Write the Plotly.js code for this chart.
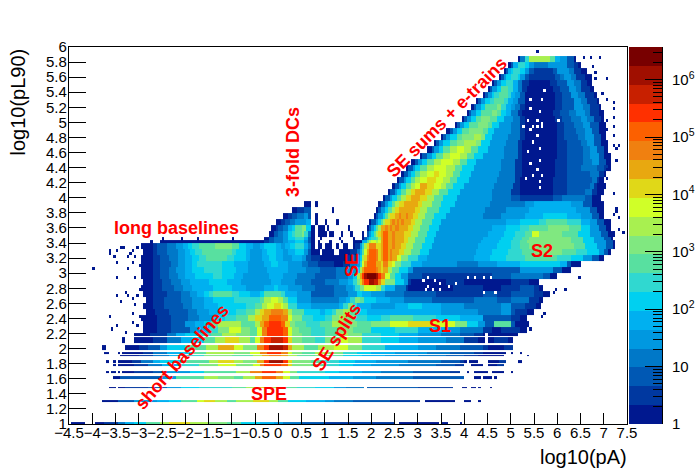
<!DOCTYPE html>
<html><head><meta charset="utf-8">
<script src="https://cdn.plot.ly/plotly-3.0.1.min.js"></script>
<style>html,body{margin:0;padding:0;background:#fff}</style></head>
<body><div id="chart" style="width:696px;height:472px"></div>
<script>
// Colour bands of the histogram, lowest first (one band = 1/20 of the log colour range)
const levelColors = ['#00188f','#0038a0','#0058b4','#0078c8','#0098e0','#00b0f0','#00d0f0','#30d8d0','#58e0a0','#80e880',
                     '#a8f050','#d0ff28','#e0d818','#e8a810','#f08010','#fc6000','#ff3000','#c82000','#a00f00','#780000'];
const xTicks = [-4.5,-4,-3.5,-3,-2.5,-2,-1.5,-1,-0.5,0,0.5,1,1.5,2,2.5,3,3.5,4,4.5,5,5.5,6,6.5,7,7.5];
const yTicks = [1,1.2,1.4,1.6,1.8,2,2.2,2.4,2.6,2.8,3,3.2,3.4,3.6,3.8,4,4.2,4.4,4.6,4.8,5,5.2,5.4,5.6,5.8,6];
const barMajor = [0,1,2,3,4,5,6];
const barMajorText = ['1','10','10<sup>2</sup>','10<sup>3</sup>','10<sup>4</sup>','10<sup>5</sup>','10<sup>6</sup>'];
const barTopDecade = 6.57;

// Histogram rows, top to bottom: lower edge, upper edge, and runs [x, level, x, level, ...]
const rowLow  = [5.80,5.72,5.64,5.56,5.48,5.40,5.32,5.24,5.16,5.08,5.00,4.92,4.84,4.76,4.68,4.60,4.52,4.44,4.36,4.28,4.20,4.12,4.04,3.96,3.88,3.80,3.72,3.64,3.56,3.48,
                 3.44,3.40,3.32,3.24,3.16,3.08,3.00,2.92,2.84,2.76,2.68,2.60,2.52,2.44,2.36,2.28,2.20,
                 2.17,2.07,1.98,1.93,1.90,1.81,1.77,1.68,1.60,1.48,1.29,1.00];
const rowHigh = [5.88,5.80,5.72,5.64,5.56,5.48,5.40,5.32,5.24,5.16,5.08,5.00,4.92,4.84,4.76,4.68,4.60,4.52,4.44,4.36,4.28,4.20,4.12,4.04,3.96,3.88,3.80,3.72,3.64,3.56,
                 3.48,3.44,3.40,3.32,3.24,3.16,3.08,3.00,2.92,2.84,2.76,2.68,2.60,2.52,2.44,2.36,2.28,
                 2.20,2.155,2.05,1.96,1.915,1.85,1.80,1.70,1.63,1.495,1.32,1.03];
const rowRuns = [
[5.15,1,5.2,4,5.3,8,5.4,11,5.85,9,5.95,6,6.05,5,6.2,3,6.35,1,6.42,0],
[4.95,1,5.0,3,5.05,6,5.15,8,5.3,7,5.4,5,5.5,4,5.8,5,6.0,5,6.2,3,6.35,2,6.45,1,6.5,0],
[4.85,1,4.9,3,4.95,6,5.0,7,5.05,8,5.2,7,5.3,5,5.4,3,5.5,2,5.9,3,6.0,5,6.25,4,6.35,2,6.5,1,6.65,0],
[4.75,1,4.8,3,4.85,5,4.9,7,5.0,8,5.15,7,5.2,5,5.3,3,5.4,2,5.95,3,6.05,4,6.15,5,6.3,4,6.42,2,6.6,1,6.75,0],
[4.62,1,4.67,3,4.72,5,4.8,7,4.9,8,5.05,6,5.15,4,5.25,2,5.4,1,5.85,2,6.0,3,6.2,5,6.35,4,6.48,2,6.65,1,6.75,0],
[4.52,1,4.57,3,4.62,5,4.7,7,4.8,9,4.95,8,5.05,6,5.15,4,5.25,2,5.35,1,5.9,2,6.05,3,6.25,5,6.4,4,6.52,2,6.72,1,6.8,0],
[4.42,1,4.47,3,4.52,5,4.6,7,4.65,8,4.75,9,4.95,8,5.0,6,5.1,5,5.2,3,5.3,1,5.95,2,6.1,3,6.3,5,6.45,4,6.6,2,6.8,1,6.85,0],
[4.25,1,4.32,3,4.37,5,4.45,7,4.55,8,4.65,9,4.85,8,4.95,6,5.05,5,5.15,3,5.3,1,5.95,2,6.1,3,6.35,5,6.5,4,6.65,2,6.85,1,6.9,0],
[4.15,1,4.2,3,4.27,5,4.35,7,4.45,9,4.7,10,4.8,8,4.92,6,5.0,5,5.1,4,5.2,2,5.3,1,5.95,2,6.1,3,6.35,5,6.55,4,6.68,2,6.88,1,6.95,0],
[4.05,1,4.1,3,4.17,5,4.25,7,4.35,9,4.6,10,4.7,9,4.8,7,4.9,6,5.0,4,5.15,2,5.25,1,5.9,2,6.05,3,6.25,4,6.4,5,6.6,4,6.72,2,6.92,1,7.0,0],
[3.95,1,4.0,3,4.07,5,4.15,7,4.25,9,4.35,10,4.55,9,4.7,7,4.85,5,5.05,4,5.2,2,5.3,1,5.95,2,6.1,3,6.3,4,6.5,5,6.65,4,6.78,2,6.95,1,7.0,0],
[3.8,1,3.85,3,3.92,5,4.0,7,4.1,9,4.3,10,4.5,9,4.6,7,4.75,5,5.0,4,5.2,2,5.3,1,6.0,2,6.15,3,6.35,4,6.55,5,6.72,3,6.9,1,7.05,0],
[3.62,1,3.68,3,3.75,5,3.85,7,3.95,9,4.1,10,4.4,9,4.5,7,4.65,5,5.0,4,5.2,2,5.3,1,6.0,2,6.15,3,6.4,4,6.6,5,6.75,3,6.92,1,7.05,0],
[3.48,1,3.55,3,3.6,5,3.7,7,3.85,9,3.95,10,4.2,11,4.35,10,4.45,7,4.6,5,4.95,4,5.2,2,5.3,1,6.0,2,6.15,3,6.45,4,6.62,5,6.78,3,6.95,1,7.05,0],
[3.35,1,3.42,3,3.47,5,3.55,7,3.7,9,3.85,10,4.0,11,4.25,10,4.35,7,4.55,5,4.9,4,5.15,2,5.25,1,6.0,2,6.2,3,6.5,4,6.65,5,6.8,3,6.95,1,7.1,0],
[3.22,1,3.3,3,3.35,5,3.45,7,3.55,9,3.7,11,3.85,12,4.0,11,4.15,9,4.3,7,4.5,5,4.85,4,5.15,2,5.25,1,6.0,2,6.2,3,6.55,4,6.7,5,6.85,3,7.0,1,7.1,0],
[3.05,1,3.12,3,3.2,5,3.3,7,3.42,9,3.55,11,3.7,12,3.9,11,4.05,9,4.2,7,4.4,5,4.85,4,5.15,2,5.25,1,6.0,2,6.2,3,6.55,4,6.72,5,6.9,3,7.02,1,7.15,0],
[2.87,1,2.95,3,3.02,5,3.1,7,3.2,9,3.35,11,3.5,12,3.75,11,3.9,9,4.05,7,4.25,5,4.8,4,5.1,2,5.25,1,5.95,2,6.2,3,6.55,4,6.75,5,6.9,3,7.05,1,7.15,0],
[2.75,1,2.82,3,2.9,5,2.97,7,3.07,9,3.2,11,3.35,12,3.6,11,3.8,9,3.95,7,4.2,5,4.8,4,5.1,2,5.25,1,5.95,2,6.2,3,6.5,4,6.85,3,6.98,2,7.1,1,7.15,0],
[2.65,1,2.72,3,2.8,5,2.87,7,2.97,9,3.07,11,3.2,12,3.35,13,3.45,12,3.6,11,3.75,9,3.9,7,4.15,5,4.75,4,5.1,2,5.25,1,5.95,2,6.2,3,6.7,4,6.9,2,7.0,1,7.05,0],
[2.55,1,2.62,3,2.7,5,2.77,7,2.87,9,2.97,11,3.07,12,3.2,13,3.4,12,3.55,11,3.7,9,3.85,7,4.1,5,4.7,4,5.1,2,5.2,1,5.9,2,6.2,3,6.75,4,6.85,2,6.9,1,7.0,0],
[2.45,1,2.52,3,2.6,5,2.67,7,2.77,9,2.87,11,2.97,12,3.05,14,3.2,13,3.35,12,3.5,11,3.6,9,3.75,7,4.0,5,4.65,4,5.05,2,5.2,1,5.9,2,6.2,3,6.7,4,6.8,2,6.85,1,7.05,0],
[2.35,1,2.42,3,2.5,5,2.57,7,2.65,9,2.75,11,2.85,13,2.95,14,3.15,13,3.3,11,3.45,9,3.65,7,3.9,5,4.6,4,5.0,2,5.2,1,5.9,2,6.2,3,6.6,4,6.75,2,6.85,1,7.0,0],
[2.25,1,2.32,3,2.4,5,2.47,7,2.55,9,2.65,11,2.75,13,2.85,14,3.05,13,3.2,11,3.35,9,3.55,7,3.85,5,4.6,4,5.0,3,5.2,2,5.9,3,6.1,4,6.6,3,6.75,1,6.95,0],
[0.55,1,0.7,0,0.8,1,0.85,0,2.15,1,2.22,3,2.3,5,2.37,7,2.45,9,2.52,11,2.6,13,2.7,14,3.0,13,3.1,11,3.3,9,3.5,7,3.8,5,4.55,4,5.3,5,5.5,6,6.3,5,6.55,3,6.75,1,7.0,0],
[0.3,1,0.4,2,0.55,3,0.68,1,0.72,0,1.15,1,1.2,0,2.1,1,2.15,3,2.22,5,2.3,7,2.37,9,2.45,11,2.52,13,2.6,14,2.95,13,3.05,11,3.2,9,3.45,7,3.7,5,4.45,4,4.9,5,5.4,6,6.4,5,6.7,3,6.85,1,7.0,0],
[0.1,1,0.2,2,0.3,3,0.4,4,0.55,5,0.65,3,0.7,0,0.8,1,0.85,0,2.05,1,2.1,3,2.17,5,2.25,7,2.3,9,2.37,11,2.42,13,2.5,14,2.6,15,2.67,14,2.75,15,2.8,14,2.9,13,3.0,11,3.15,9,3.35,7,3.6,5,4.4,4,4.8,5,5.3,6,5.7,7,6.2,6,6.5,5,6.75,3,6.9,1,7.0,0],
[-0.05,1,0.05,2,0.15,3,0.25,4,0.35,5,0.6,6,0.68,3,0.72,0,0.8,1,0.85,0,1.0,1,1.05,0,1.25,1,1.3,0,1.95,1,2.02,3,2.1,5,2.17,7,2.22,9,2.27,11,2.32,13,2.4,14,2.45,15,2.5,14,2.55,15,2.6,14,2.65,15,2.7,14,2.85,13,2.95,11,3.1,9,3.3,7,3.5,5,4.7,5,4.9,6,5.2,7,5.6,8,5.75,9,6.2,8,6.5,6,6.7,5,6.85,3,7.0,1,7.15,0],
[-0.15,1,-0.05,2,0.0,3,0.1,4,0.2,6,0.3,7,0.35,9,0.5,10,0.6,7,0.68,3,0.72,1,0.8,0,0.85,1,1.0,0,1.05,1,1.1,0,1.5,1,1.55,0,1.88,1,1.95,3,2.0,5,2.07,7,2.12,9,2.17,11,2.22,14,2.3,15,2.37,14,2.42,15,2.47,14,2.52,15,2.6,14,2.8,13,2.9,11,3.05,9,3.25,7,3.45,5,4.3,5,4.6,6,4.9,7,5.2,8,5.4,9,5.8,10,6.25,9,6.5,7,6.7,5,6.9,3,7.05,1,7.15,0],
[-0.2,1,-0.1,3,0,4,0.1,5,0.2,7,0.3,8,0.35,9,0.5,10,0.55,8,0.65,4,0.7,1,0.8,0,0.85,1,1.05,0,1.1,1,1.2,0,1.35,1,1.4,0,1.55,1,1.6,0,1.8,1,1.85,0,1.88,1,1.92,3,1.97,5,2.02,7,2.07,9,2.12,11,2.17,13,2.22,14,2.27,16,2.35,14,2.45,15,2.5,14,2.7,13,2.85,11,3.0,9,3.2,7,3.4,5,4.2,5,4.5,6,4.85,7,5.1,8,5.3,9,5.45,12,5.6,10,6.1,9,6.45,7,6.7,5,6.95,3,7.1,1,7.2,0],
[-2.5,1,-2.45,0,-2.1,1,-2.05,0,-1.75,1,-1.7,0,-1.0,1,-0.95,0,-0.3,1,-0.2,3,-0.1,4,0.1,5,0.2,7,0.35,8,0.55,6,0.65,3,0.72,1,0.8,0,0.9,1,0.95,0,1.3,1,1.35,0,1.6,1,1.65,0,1.78,1,1.85,3,1.9,5,1.95,7,2.0,8,2.1,9,2.15,11,2.2,14,2.27,16,2.35,14,2.45,15,2.5,14,2.7,13,2.8,11,2.95,9,3.15,7,3.35,5,4.1,5,4.4,6,4.8,7,5.05,8,5.25,9,5.4,10,6.0,10,6.3,9,6.55,7,6.8,5,7.0,3,7.15,1,7.2,0],
[-2.75,1,-2.7,0,-2.55,1,-0.3,2,-0.2,3,-0.1,4,0.1,5,0.2,6,0.35,7,0.55,5,0.65,3,0.72,1,0.8,0,0.85,1,0.9,0,1.1,1,1.15,0,1.35,1,1.4,0,1.62,1,1.78,3,1.82,6,1.88,9,1.93,11,2.0,12,2.1,11,2.15,12,2.2,14,2.27,16,2.35,14,2.45,15,2.5,14,2.7,13,2.8,11,2.95,9,3.15,7,3.35,5,4.05,5,4.35,6,4.75,7,5.0,8,5.2,9,5.35,10,6.05,10,6.3,9,6.55,7,6.8,5,7.05,3,7.2,1,7.25,0],
[-2.95,1,-2.72,2,-2.6,3,-2.4,4,-2.2,5,-2.05,6,-1.95,7,-1.85,8,-1.7,9,-1.35,10,-1.0,9,-0.85,7,-0.7,6,-0.55,5,-0.4,6,-0.3,7,-0.05,6,0.05,5,0.15,6,0.25,7,0.35,8,0.55,6,0.65,4,0.72,1,0.8,0,0.85,1,0.95,0,1.0,1,1.15,0,1.25,1,1.3,0,1.4,1,1.5,0,1.6,1,1.65,2,1.75,5,1.8,8,1.85,11,1.9,13,1.95,15,2.12,13,2.2,14,2.27,16,2.35,14,2.45,15,2.5,14,2.65,13,2.75,11,2.9,9,3.1,7,3.3,5,4.05,5,4.3,6,4.7,7,5.0,8,5.2,9,5.4,10,6.05,10,6.35,9,6.6,7,6.85,5,7.05,3,7.2,1,7.25,0],
[-2.9,1,-2.7,2,-2.58,3,-2.38,4,-2.15,5,-2.0,6,-1.9,7,-1.8,8,-1.65,9,-1.0,8,-0.9,7,-0.7,6,-0.6,5,-0.35,6,-0.25,7,-0.05,6,0.1,5,0.2,6,0.35,7,0.55,5,0.65,3,0.72,1,0.9,0,0.95,1,1.2,0,1.3,1,1.55,2,1.7,4,1.75,6,1.8,9,1.85,12,1.9,14,1.95,16,2.1,15,2.15,13,2.22,14,2.27,16,2.35,14,2.42,15,2.47,14,2.6,13,2.7,11,2.85,9,3.05,7,3.25,5,4.0,5,4.25,6,4.6,7,4.95,8,5.25,9,5.5,10,6.1,9,6.4,8,6.65,7,6.9,5,7.0,3,7.1,1,7.15,0],
[-2.95,1,-2.72,2,-2.55,3,-2.35,4,-2.15,5,-2.0,6,-1.85,7,-1.7,8,-1.55,9,-1.1,8,-0.95,7,-0.7,6,-0.6,5,-0.35,6,-0.2,7,-0.05,6,0.1,5,0.3,6,0.5,5,0.6,3,0.7,2,0.9,1,1.5,2,1.6,3,1.7,5,1.75,7,1.8,11,1.85,13,1.9,15,1.95,16,2.1,15,2.15,13,2.22,14,2.27,16,2.35,14,2.42,15,2.47,14,2.55,12,2.65,10,2.8,8,3.0,6,3.2,5,3.9,5,4.2,6,4.55,7,4.9,8,5.3,9,5.7,9,6.0,8,6.3,7,6.55,5,6.75,3,6.9,1,7.0,0],
[-2.95,1,-2.7,2,-2.55,3,-2.3,4,-2.15,5,-2.0,6,-1.85,7,-1.75,8,-1.2,7,-0.95,6,-0.65,5,-0.3,6,-0.15,7,0.0,6,0.2,5,0.5,4,0.65,3,0.85,2,1.2,1,1.4,2,1.55,4,1.7,5,1.75,8,1.8,12,1.85,14,1.9,16,2.12,14,2.2,13,2.25,15,2.35,13,2.45,12,2.5,10,2.65,8,2.85,6,3.1,5,3.85,4,4.3,5,4.7,6,5.2,7,6.05,6,6.2,3,6.3,1,6.5,0],
[-2.95,1,-2.72,2,-2.55,3,-2.35,4,-2.2,5,-2.0,6,-1.85,7,-1.6,8,-1.2,7,-0.9,6,-0.65,5,-0.25,6,0.2,5,0.6,4,0.9,3,1.25,4,1.5,5,1.65,7,1.75,11,1.8,14,1.85,16,2.1,15,2.15,14,2.2,13,2.25,14,2.35,11,2.45,9,2.6,7,2.8,5,2.9,3,4.6,3,5.2,5,5.9,3,6.1,1,6.3,0],
[-2.95,1,-2.72,2,-2.55,3,-2.35,4,-2.15,5,-2.0,6,-1.8,7,-1.4,8,-1.2,7,-0.95,6,-0.75,5,-0.2,6,0.1,5,0.4,4,0.8,3,1.25,4,1.5,5,1.6,7,1.7,11,1.75,14,1.8,17,1.85,19,1.9,20,2.12,19,2.17,17,2.22,15,2.3,12,2.4,9,2.5,7,2.65,5,2.8,3,3.1,2,4.6,3,5.0,4,5.7,3,5.85,1,6.0,0],
[-2.92,1,-2.7,2,-2.5,3,-2.3,4,-2.1,5,-1.9,6,-1.5,7,-1.1,6,-0.8,5,-0.15,6,0.05,5,0.35,4,0.7,3,1.0,4,1.3,5,1.5,6,1.6,8,1.7,10,1.75,13,1.8,15,1.85,17,1.95,19,2.05,18,2.15,15,2.2,13,2.3,10,2.5,7,2.7,5,2.8,2,2.85,1,3.6,2,4.0,1,4.75,1,5.0,2,5.4,1,5.6,0],
[-2.95,1,-2.7,2,-2.5,3,-2.25,4,-2.05,5,-1.85,6,-1.4,7,-1.0,6,-0.7,5,-0.3,6,-0.1,7,0,6,0.2,5,0.5,4,0.8,3,1.2,4,1.45,5,1.6,6,1.65,8,1.75,10,1.85,12,2.1,11,2.2,8,2.3,6,2.5,4,2.75,2,2.8,1,3.75,2,4.4,1,4.8,2,5.2,3,5.5,2,5.6,1,5.7,0],
[-2.92,1,-2.7,2,-2.4,3,-2.1,4,-1.9,5,-1.75,6,-1.6,7,-1.5,8,-1.4,9,-1.0,8,-0.85,7,-0.6,6,-0.4,7,-0.3,9,0.05,8,0.15,6,0.4,5,0.7,3,1.2,4,1.5,5,1.7,7,1.8,6,2.0,5,2.3,4,2.7,3,3.4,2,4.4,3,4.7,2,5.0,3,5.5,2,5.7,1,5.85,0],
[-2.85,1,-2.7,2,-2.45,3,-2.1,4,-1.85,5,-1.6,6,-1.4,7,-0.95,8,-0.4,9,-0.3,11,-0.15,12,0,11,0.1,9,0.2,7,0.4,5,0.7,4,1.3,5,1.45,6,1.55,8,1.65,10,1.75,9,1.85,7,2.1,6,2.4,5,2.7,4,3.3,3,4.2,4,4.7,3,5.0,4,5.4,2,5.6,1,5.7,0],
[-2.9,1,-2.7,2,-2.45,3,-2.05,4,-1.85,5,-1.6,6,-1.3,7,-0.7,8,-0.5,9,-0.35,11,-0.25,12,-0.1,13,0.05,12,0.1,11,0.2,8,0.4,6,0.7,5,1.1,5,1.3,6,1.4,8,1.5,10,1.6,8,1.7,6,2.0,5,2.5,6,2.8,7,3.1,6,3.5,5,4.0,4,4.8,5,5.0,3,5.3,2,5.55,1,5.65,0],
[-2.85,1,-2.65,2,-2.35,3,-1.95,4,-1.75,5,-1.5,6,-1.25,7,-0.9,8,-0.7,9,-0.5,11,-0.4,13,-0.3,14,-0.15,15,0.1,14,0.2,11,0.3,9,0.55,7,0.9,6,1.0,7,1.15,8,1.25,10,1.4,11,1.55,9,1.7,7,1.9,6,3.5,5,4.3,4,4.8,5,5.0,3,5.1,2,5.35,1,5.5,0],
[-2.95,1,-2.6,2,-2.3,3,-1.95,4,-1.7,5,-1.4,7,-1.15,8,-0.9,9,-0.65,11,-0.5,13,-0.35,14,-0.2,16,0.05,15,0.2,12,0.3,10,0.5,8,0.75,7,1.0,8,1.15,10,1.3,11,1.45,10,1.65,8,1.9,7,2.2,8,2.4,9,2.9,8,3.4,7,3.9,6,4.4,3,5.0,2,5.2,1,5.35,0],
[-2.9,1,-2.6,2,-2.3,3,-2.0,5,-1.8,6,-1.6,7,-1.45,9,-1.3,11,-0.8,9,-0.5,11,-0.4,14,-0.3,16,-0.2,17,0.05,16,0.15,13,0.25,10,0.35,9,0.6,8,0.9,9,1.15,11,1.4,10,1.7,9,2.0,10,2.4,12,2.8,13,3.3,12,3.8,10,4.05,7,4.3,5,4.45,3,4.65,9,5.0,3,5.1,1,5.4,0],
[-2.9,1,-2.6,2,-2.3,3,-1.9,5,-1.7,6,-1.5,8,-1.3,10,-1.05,12,-0.8,10,-0.6,9,-0.45,12,-0.35,15,-0.25,17,0.1,16,0.2,12,0.3,10,0.45,9,0.7,8,1.0,9,1.3,10,1.6,9,2.0,7,2.5,8,3.0,6,3.6,5,3.9,4,4.4,2,4.6,1,4.8,2,5.2,1,5.35,0],
[-3.1,1,-2.75,2,-2.4,4,-2.2,6,-2,7,-1.7,8,-1.45,9,-1.2,11,-0.9,10,-0.6,9,-0.45,12,-0.35,15,-0.25,17,0.1,16,0.2,12,0.3,10,0.5,9,0.7,8,1.0,9,1.3,11,1.5,10,1.8,8,2.2,7,2.6,6,3.0,5,3.5,4,3.9,3,4.2,2,4.4,1,4.45,0,4.5,1,5.15,0],
[-3.35,1,-3.3,0,-3.1,1,-2.7,2,-2.4,4,-2.1,6,-1.85,7,-1.6,9,-1.35,11,-1.15,13,-0.85,11,-0.6,9,-0.5,12,-0.4,15,-0.3,17,-0.15,18,0.1,17,0.2,13,0.3,10,0.5,9,0.8,8,1.0,10,1.35,12,1.5,11,1.8,8,2.2,7,2.6,6,3.0,5,3.6,4,4.0,2,4.3,1,4.45,0,4.5,1,4.65,2,4.95,1,5.05,0],
[-3.8,1,-3.7,0,-3.3,1,-3.0,2,-2.8,3,-2.55,5,-2.4,7,-2.0,9,-1.55,11,-1.3,14,-0.95,12,-0.75,10,-0.45,15,-0.3,17,-0.2,19,0.1,18,0.2,14,0.3,11,0.55,9,0.85,11,1.2,12,1.5,10,1.8,8,2.3,6,3.0,5,3.4,4,3.9,3,4.4,2,4.5,1,4.85,2,5.05,0],
[-3.75,1,-3.65,0,-3.45,1,-3.4,0,-3.35,1,-2.9,2,-2.7,4,-2.4,6,-2.1,7,-1.85,9,-1.55,11,-0.95,10,-0.6,12,-0.4,15,-0.25,17,0.05,15,0.2,12,0.3,10,0.5,9,0.8,11,1.1,10,1.4,8,1.7,7,2.0,6,2.5,5,3.2,4,3.7,3,4.2,2,4.4,1,4.9,0,5.0,1,5.05,0,5.2,1,5.25,0],
[-3.4,1,-3.0,2,-2.7,4,-2.35,6,-2.0,8,-1.6,10,-1.0,9,-0.55,11,-0.35,14,-0.2,15,0.05,14,0.2,11,0.4,9,0.8,10,1.1,9,1.4,7,1.8,6,2.3,5,3.0,4,3.6,3,4.0,2,4.3,1,4.85,0,5.35,1,5.4,0],
[-3.7,1,-3.65,0,-3.55,1,-3.5,0,-3.45,1,-3.15,2,-2.95,4,-2.7,6,-2.55,7,-2.1,9,-1.5,11,-1.3,13,-0.95,11,-0.75,10,-0.45,14,-0.3,17,-0.2,19,0.1,17,0.2,13,0.3,10,0.7,9,0.9,8,1.3,7,1.65,6,2.1,5,2.8,4,3.5,3,3.9,2,4.0,1,4.05,0,4.1,1,4.3,0,4.5,1,4.75,2,4.9,0,5.15,1,5.25,0],
[-3.55,1,-3.5,0,-3.45,1,-3.1,2,-2.8,4,-2.5,6,-2.1,8,-1.7,10,-1.3,12,-0.9,10,-0.55,12,-0.4,15,-0.3,17,0.05,16,0.2,13,0.3,10,0.7,9,1.0,8,1.3,7,1.6,6,2.0,5,2.6,4,3.4,3,3.8,2,4.0,0,4.15,1,4.4,0,4.5,1,4.7,2,4.85,0],
[-3.7,1,-3.65,0,-3.58,1,-3.5,0,-3.45,1,-3.38,0,-3.33,1,-3.1,2,-2.7,3,-2.4,5,-1.9,7,-1.6,9,-0.9,11,-0.6,15,-0.35,17,-0.05,15,0.1,12,0.25,10,0.4,8,1.0,7,1.3,6,1.8,5,2.2,4,2.9,3,3.7,2,3.9,0,4.05,1,4.1,0,4.2,1,4.5,0,4.6,1,4.85,0,5.0,1,5.05,0],
[-3.55,1,-3.4,3,-2.5,5,-2.2,9,-1.6,11,-1.3,10,-0.95,9,-0.75,11,-0.5,14,-0.35,16,-0.05,14,0.1,12,0.25,9,0.45,7,1.1,6,1.6,5,2.1,4,2.9,3,4.0,0,4.2,1,4.35,0,4.42,1,4.6,0,4.65,1,4.72,0],
[-3.65,1,-3.5,0,-3.45,1,-3.3,2,-2.8,3,-2.4,5,-2.1,7,-1.7,8,-1.0,9,-0.7,11,-0.4,13,-0.15,11,0.1,9,0.4,8,0.8,7,1.2,5,1.45,4,1.85,0,1.9,3,3.0,2,3.77,0,3.97,1,4.05,0,4.13,1,4.25,0,4.3,1,4.37,0,4.54,1,4.6,0],
[-3.8,1,-3.45,3,-3.1,5,-2.6,6,-2.35,7,-2.1,9,-1.75,12,-1.6,13,-1.35,11,-1.1,9,-0.9,11,-0.55,13,-0.2,11,0,9,0.2,7,0.6,6,1.0,5,1.2,4,1.6,3,2.4,2,3.05,0,3.15,1,3.8,0,4.0,1,4.13,0,4.28,1,4.35,0],
[-4.45,1,-4.15,0,-3.95,1,-3.75,2,-3.45,4,-3.3,6,-3.1,7,-2.85,9,-2.55,11,-2.35,13,-1.9,11,-1.5,10,-1.1,9,-0.8,7,-0.4,6,-0.1,5,0.1,4,0.5,3,1.0,2,2.5,0,2.58,1,3.45,0,3.52,1,3.66,0,3.89,1,3.95,0]
];

// Isolated low-count bins at the edges of the populated region (x, y in axis units)
const speckX = [-3.62,-3.47,-3.33,-3.19,-3.47,-3.15,-3.22,-3.47,-3.3,-3.22,-3.47,-3.37,-3.12,-3.62,-3.47,-3.58,-3.12,-3.15,-3.26,-3.08,-3.0,-3.08,-2.97,-3.05,-3.08,-2.97,-3.05,-3.05,-3.62,-3.4,-3.55,-3.15,-3.22,-3.95,
                5.59,6.6,6.74,6.91,6.78,6.85,7.06,6.99,7.06,7.21,7.21,7.21,7.06,6.99,7.21,7.06,7.21,7.21,7.3,7.28,7.14,7.28,7.14,7.06,7.06,7.21,7.03,7.28,6.85,
                7.28,7.21,7.31,7.35,7.42,7.21,7.24,6.99,7.06,6.28,6.49,6.2,5.99,5.92,5.74,5.7,5.41,5.24];
const speckY = [3.31,3.29,3.33,3.26,3.15,3.13,3.04,2.93,2.75,2.71,2.69,2.6,2.65,2.4,2.29,2.27,2.47,2.34,2.22,3.22,3.09,2.95,2.8,2.71,2.56,2.42,2.31,3.35,3.26,3.35,3.22,3.31,3.2,3.04,
                5.92,5.87,5.87,5.87,5.74,5.65,5.58,5.39,5.31,5.26,5.17,5.05,5.03,5.14,4.94,4.9,4.83,4.72,4.69,4.66,4.57,4.52,4.44,4.37,4.24,4.06,4.19,3.85,5.58,
                3.82,3.77,3.73,3.57,3.55,3.53,3.48,3.79,3.71,3.04,2.93,2.78,2.8,2.73,2.45,2.4,2.27,2.29];
// Empty bins inside the populated region (hole of the arch and the dark band under S2)
const holeX = [5.45,5.67,5.74,5.41,5.63,5.49,5.38,5.27,5.41,5.56,5.7,5.59,5.7,6.02,5.59,5.49,5.63,5.38,5.63,5.45,5.59,5.49,5.63,5.35,5.63,5.7,
               3.12,3.23,3.37,3.48,3.69,3.16,3.3,3.48,3.84,4.09,4.23,4.45,4.55,4.41,4.7,3.23];
const holeY = [5.19,5.3,5.43,5.3,5.14,4.92,5.01,4.94,4.9,4.92,4.99,5.03,4.92,5.02,4.81,4.74,4.68,4.63,4.52,4.44,4.37,4.3,4.21,4.24,4.15,4.28,
               2.91,2.93,2.89,2.87,2.84,2.8,2.78,2.79,2.87,2.95,2.93,2.93,2.93,2.74,2.74,2.84];

// Red region labels
const labelText  = ['long baselines','3-fold DCs','SE sums + e-trains','SE','S2','S1','SPE','SE splits','short baselines'];
const labelX     = [-2.18,0.32,3.63,1.59,5.67,3.48,-0.2,1.26,-2.07];
const labelY     = [3.6,4.61,5.07,3.11,3.29,2.3,1.4,2.15,1.89];
const labelAngle = [0,-90,-45,-90,0,0,0,-58,-49];

const W = 696, H = 472, binW = 0.05, nBins = 240, fineH = 0.04, nFine = 125;
const xEdges = Array.from({length:nBins+1},(_,i)=>-4.5+i*binW);
const fineEdges = Array.from({length:nFine+1},(_,i)=>1+i*fineH);

// Expand the runs into a histogram grid, bottom row first; gaps between rows stay empty.
const order = rowLow.map((_,i)=>i).sort((a,b)=>rowLow[a]-rowLow[b]);
const yEdges = [], z = [];
const emptyRow = () => new Array(nBins).fill(null);
order.forEach((r,k)=>{
  if(k===0) yEdges.push(rowLow[r]);
  else if(rowLow[r] > yEdges[yEdges.length-1]+1e-9){ z.push(emptyRow()); yEdges.push(rowLow[r]); }
  const row = emptyRow(), runs = rowRuns[r];
  for(let j=0;j<nBins;j++){
    const xc = -4.5+(j+0.5)*binW;
    let lvl = 0;
    for(let q=0;q<runs.length;q+=2){ if(runs[q] <= xc) lvl = runs[q+1]; else break; }
    if(lvl>0) row[j] = lvl-0.5;
  }
  z.push(row); yEdges.push(rowHigh[r]);
});

// Fine grid for the isolated bins: 0 = navy count, 1 = empty (paper white)
const speckZ = Array.from({length:nFine},emptyRow);
const mark = (xs,ys,v)=>xs.forEach((x,i)=>{
  const c = Math.floor((x+4.5)/binW), r = Math.floor((ys[i]-1)/fineH);
  if(r>=0&&r<nFine&&c>=0&&c<nBins) speckZ[r][c] = v;
});
mark(speckX,speckY,0); mark(holeX,holeY,1);

const scale = [];
levelColors.forEach((c,i)=>{ scale.push([i/20,c]); scale.push([(i+1)/20,c]); });

const barEdges = levelColors.concat(['']).map((_,i)=>i*barTopDecade/20);
const barZ = levelColors.map((_,i)=>[i+0.5]);
const barMinor = [];
barMajor.slice(0,-1).forEach(d=>{ [2,3,4,5,6,7,8,9].forEach(m=>barMinor.push(d+Math.log10(m))); });
[2,3].forEach(m=>barMinor.push(6+Math.log10(m)));

const tickFont = {family:'"Liberation Sans",Arial,sans-serif', size:15, color:'#000'};
const traces = [
 {type:'heatmap', x:xEdges, y:yEdges, z:z, colorscale:scale, zmin:0, zmax:20, showscale:false, hoverinfo:'skip', zsmooth:false},
 {type:'heatmap', x:xEdges, y:fineEdges, z:speckZ, colorscale:[[0,levelColors[0]],[0.5,levelColors[0]],[0.5,'#ffffff'],[1,'#ffffff']], zmin:0, zmax:1, showscale:false, hoverinfo:'skip', zsmooth:false},
 {type:'heatmap', x:[0,1], y:barEdges, z:barZ, xaxis:'x2', yaxis:'y2', colorscale:scale, zmin:0, zmax:20, showscale:false, hoverinfo:'skip'}
];
const annotations = labelText.map((t,i)=>({text:t, x:labelX[i], y:labelY[i], xref:'x', yref:'y', showarrow:false, textangle:labelAngle[i],
  font:{family:'"Liberation Sans",Arial,sans-serif', size:18, color:'#ff0000', weight:700}}));
annotations.push({text:'log10(pA)', xref:'paper', yref:'paper', x:1, xanchor:'right', y:(H-457)/H, yanchor:'middle', showarrow:false,
  font:{family:'"Liberation Sans",Arial,sans-serif', size:20, color:'#000'}, xshift:-(W-629)});
const layout = {
  width:W, height:H, margin:{l:0,r:0,t:0,b:0}, paper_bgcolor:'#fff', plot_bgcolor:'#fff', showlegend:false,
  xaxis:{domain:[69/W,627/W], range:[-4.5,7.5], tickmode:'array', tickvals:xTicks, ticktext:xTicks.map(v=>v<0?'\u2212'+Math.abs(v):String(v)),
         tickangle:0, ticks:'inside', ticklen:11, tickcolor:'#000', tickfont:tickFont, showline:true, linecolor:'#000', linewidth:1.3, mirror:true,
         showgrid:false, zeroline:false, ticklabelstandoff:-5, anchor:'y'},
  yaxis:{domain:[(H-424)/H,(H-47)/H], range:[1,6], tickmode:'array', tickvals:yTicks, ticktext:yTicks.map(String),
         ticks:'inside', ticklen:17, tickcolor:'#000', tickfont:tickFont, showline:true, linecolor:'#000', linewidth:1.3, mirror:true,
         showgrid:false, zeroline:false, ticklabelstandoff:-2, anchor:'x'},
  xaxis2:{domain:[629/W,662/W], range:[0,1], showticklabels:false, ticks:'', showgrid:false, zeroline:false, showline:false, anchor:'y2'},
  yaxis2:{domain:[(H-424)/H,(H-47)/H], range:[0,barTopDecade], side:'right', anchor:'x2', tickmode:'array', tickvals:barMajor, ticktext:barMajorText,
          ticks:'inside', ticklen:17, tickcolor:'#000', tickfont:tickFont, showgrid:false, zeroline:false, showline:true, linecolor:'#000', linewidth:1,
          ticklabelstandoff:6,
          minor:{tickmode:'array', tickvals:barMinor, ticks:'inside', ticklen:9, tickcolor:'#000', showgrid:false}},
  annotations:annotations
};
layout.annotations.push({text:'log10(pL90)', xref:'paper', yref:'paper', x:18/W, xanchor:'center', y:(H-47)/H, yanchor:'top', textangle:-90, showarrow:false,
  font:{family:'"Liberation Sans",Arial,sans-serif', size:20, color:'#000'}});
Plotly.newPlot('chart', traces, layout, {displayModeBar:false, responsive:false});
</script></body></html>
